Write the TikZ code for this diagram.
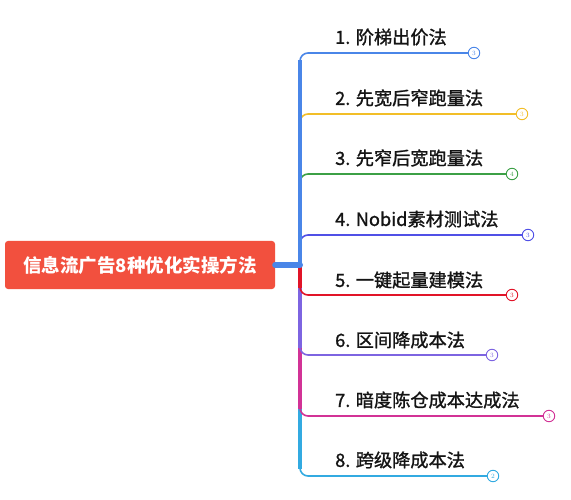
\documentclass[tikz,border=0pt]{standalone}
\usepackage{fontspec}
\newfontfamily\cjk{Noto Sans CJK SC}
\newfontfamily\cjkm[FakeBold=1.2]{Noto Sans CJK SC}
\definecolor{rootred}{RGB}{242,80,62}
\definecolor{ca}{RGB}{74,134,232}
\definecolor{cb}{RGB}{242,190,40}
\definecolor{cc}{RGB}{60,160,70}
\definecolor{cd}{RGB}{80,80,230}
\definecolor{ce}{RGB}{225,20,40}
\definecolor{cf}{RGB}{125,100,225}
\definecolor{cg}{RGB}{210,50,150}
\definecolor{ch}{RGB}{50,170,225}
\definecolor{txt}{RGB}{20,20,20}
\tikzset{
  lab/.style={anchor=west, inner sep=0pt, font=\cjkm\fontsize{18.2}{19}\selectfont, text=txt},
  cnt/.style={circle, draw, fill=white, line width=0.9pt, minimum size=11.5pt, inner sep=0pt, font=\fontsize{6.5}{7}\selectfont},
  thin/.style={line width=1.6pt, rounded corners=8pt},
  thick/.style={line width=3.6pt},
}
\begin{document}
\begin{tikzpicture}[x=1pt,y=-1pt]
\useasboundingbox[fill=white] (0,0) rectangle (571,500);
\node[fill=rootred, rounded corners=3pt, minimum width=270pt, minimum height=48pt, inner sep=0pt,
  font=\cjk\bfseries\fontsize{18.5}{19}\selectfont, text=white] (root) at (140,265) {信息流广告8种优化实操方法};
\coordinate (J) at (300,265);
% labels
\node[lab] (l1) at (335,37) {1. 阶梯出价法};
\node[lab] (l2) at (335,98) {2. 先宽后窄跑量法};
\node[lab] (l3) at (335,158) {3. 先窄后宽跑量法};
\node[lab] (l4) at (335,219) {4. Nobid素材测试法};
\node[lab] (l5) at (335,280) {5. 一键起量建模法};
\node[lab] (l6) at (335,340) {6. 区间降成本法};
\node[lab] (l7) at (335,400) {7. 暗度陈仓成本达成法};
\node[lab] (l8) at (335,460) {8. 跨级降成本法};
% count circles positions
\coordinate (p1) at (474,53);
\coordinate (p2) at (522,114);
\coordinate (p3) at (512,174);
\coordinate (p4) at (528,235);
\coordinate (p5) at (512,295);
\coordinate (p6) at (492,355);
\coordinate (p7) at (549,416);
\coordinate (p8) at (493,476);
% upper branches (farthest drawn last)
\draw[thin, cd] (J) |- (p4);
\draw[thick, cd] (J) -- (300,228);
\draw[thin, cc] (J) |- (p3);
\draw[thick, cc] (J) -- (300,167);
\draw[thin, cb] (J) |- (p2);
\draw[thick, cb] (J) -- (300,107);
\draw[thin, ca] (J) |- (p1);
\draw[thick, ca] (J) -- (300,60);
% lower branches (nearest drawn last)
\draw[thin, ch] (J) |- (p8);
\draw[thick, ch] (J) -- (300,469);
\draw[thin, cg] (J) |- (p7);
\draw[thick, cg] (J) -- (300,409);
\draw[thin, cf] (J) |- (p6);
\draw[thick, cf] (J) -- (300,348);
\draw[thin, ce] (J) |- (p5);
\draw[thick, ce] (J) -- (300,288);
% root connector
\draw[ca, line width=6pt, line cap=round] (root.east) -- (J);
% circles
\node[cnt, draw=ca, text=ca] (n1) at (p1) {3};
\node[cnt, draw=cb, text=cb] (n2) at (p2) {3};
\node[cnt, draw=cc, text=cc] (n3) at (p3) {4};
\node[cnt, draw=cd, text=cd] (n4) at (p4) {3};
\node[cnt, draw=ce, text=ce] (n5) at (p5) {3};
\node[cnt, draw=cf, text=cf] (n6) at (p6) {3};
\node[cnt, draw=cg, text=cg] (n7) at (p7) {3};
\node[cnt, draw=ch, text=ch] (n8) at (p8) {2};
\end{tikzpicture}
\end{document}
